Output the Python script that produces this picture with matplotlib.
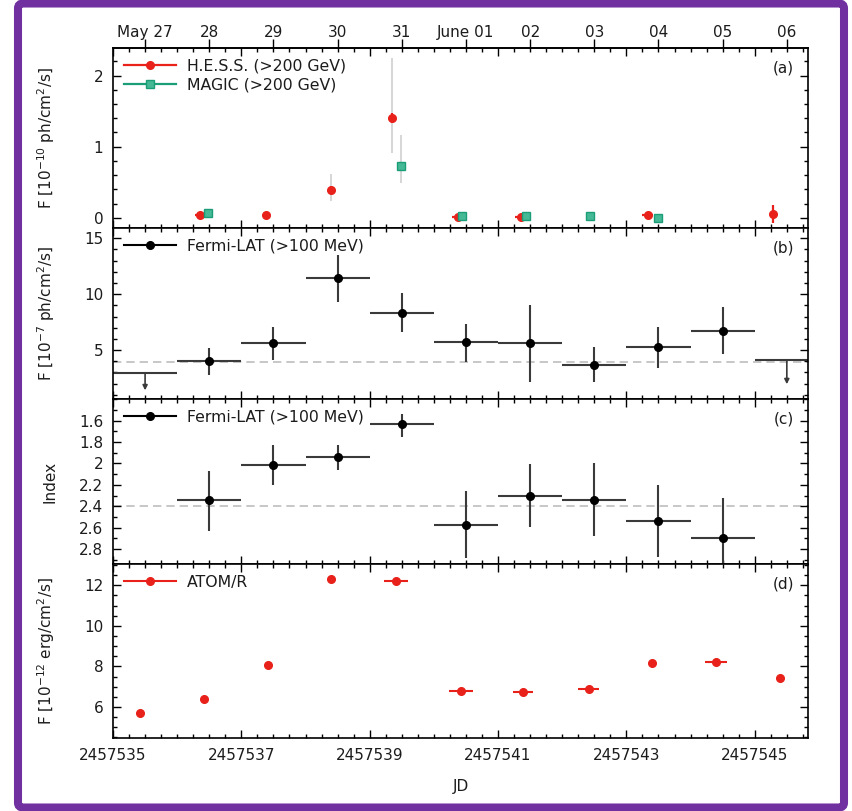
import matplotlib
matplotlib.use("Agg")
import matplotlib.pyplot as plt
from matplotlib.lines import Line2D
from matplotlib.patches import FancyBboxPatch
from matplotlib.ticker import MultipleLocator, FormatStrFormatter, FixedLocator
import numpy as np

# ---------------- data ----------------
# H.E.S.S. (>200 GeV), 1e-10 ph/cm2/s
hess_jd = [2457536.36, 2457537.39, 2457538.39, 2457539.35, 2457540.37,
           2457541.35, 2457543.33, 2457545.28]
hess_f = [0.04, 0.04, 0.39, 1.40, 0.014, 0.014, 0.04, 0.05]
hess_xerr = [0.08, 0.0, 0.0, 0.0, 0.09, 0.09, 0.08, 0.0]
hess_err = [0.03, 0.02, 0.05, 0.07, 0.02, 0.02, 0.02, 0.13]
hess_sys_lo = [0.0, 0.0, 0.15, 0.49, 0.0, 0.0, 0.0, 0.0]
hess_sys_hi = [0.0, 0.0, 0.22, 0.85, 0.0, 0.0, 0.0, 0.0]

# MAGIC (>200 GeV)
magic_jd = [2457536.48, 2457539.49, 2457540.44, 2457541.44, 2457542.44, 2457543.49]
magic_f = [0.06, 0.73, 0.024, 0.03, 0.03, -0.01]
magic_sys_lo = [0.0, 0.24, 0.0, 0.0, 0.0, 0.0]
magic_sys_hi = [0.0, 0.44, 0.0, 0.0, 0.0, 0.0]

# Fermi-LAT (>100 MeV), daily bins
lat_jd = [2457536.5, 2457537.5, 2457538.5, 2457539.5, 2457540.5,
          2457541.5, 2457542.5, 2457543.5, 2457544.5]
lat_f = [4.02, 5.6, 11.42, 8.3, 5.69, 5.6, 3.66, 5.27, 6.73]
lat_f_lo = [1.26, 1.5, 2.12, 1.66, 1.74, 3.44, 1.5, 1.91, 2.12]
lat_f_hi = [1.18, 1.48, 2.08, 1.77, 1.64, 3.42, 1.58, 1.81, 2.15]
lat_ul_jd = [2457535.5, 2457545.5]
lat_ul = [2.97, 4.13]
lat_mean = 3.95

lat_idx = [2.344, 2.015, 1.94, 1.63, 2.575, 2.30, 2.34, 2.54, 2.695]
lat_idx_lo = [0.274, 0.185, 0.11, 0.09, 0.315, 0.294, 0.34, 0.34, 0.375]
lat_idx_hi = [0.286, 0.185, 0.12, 0.12, 0.305, 0.29, 0.34, 0.33, 0.375]
idx_mean = 2.4

# ATOM R band, 1e-12 erg/cm2/s
atom_jd = [2457535.42, 2457536.42, 2457537.42, 2457538.40, 2457539.41, 2457540.42,
           2457541.39, 2457542.41, 2457543.40, 2457544.40, 2457545.39]
atom_f = [5.69, 6.41, 8.05, 12.31, 12.21, 6.80, 6.74, 6.90, 8.15, 8.20, 7.43]
atom_xerr = [0.0, 0.0, 0.0, 0.0, 0.19, 0.19, 0.16, 0.16, 0.0, 0.17, 0.0]

date_jd = [2457535.5 + i for i in range(11)]
date_labels = ["May 27", "28", "29", "30", "31", "June 01", "02", "03", "04", "05", "06"]
idx_ticks = [1.6, 1.8, 2.0, 2.2, 2.4, 2.6, 2.8]

# ---------------- style ----------------
red = "#e8211b"
green = "#1b9e77"
txt = "#1c1c1c"
plt.rcParams["font.family"] = "DejaVu Sans"
plt.rcParams["font.size"] = 11
plt.rcParams["text.color"] = txt
plt.rcParams["axes.labelcolor"] = txt
plt.rcParams["xtick.color"] = "black"
plt.rcParams["ytick.color"] = "black"
plt.rcParams["xtick.labelcolor"] = txt
plt.rcParams["ytick.labelcolor"] = txt

W, H = 852, 811
fig = plt.figure(figsize=(W / 100, H / 100), dpi=100)

left, right = 113, 808
rows = [(48, 228), (228, 399), (399, 564), (564, 738)]
axes = []
for top, bot in rows:
    ax = fig.add_axes([left / W, 1 - bot / H, (right - left) / W, (bot - top) / H])
    axes.append(ax)
ax_a, ax_b, ax_c, ax_d = axes

xlim = (2457535.0, 2457545.83)
for ax in axes:
    ax.set_xlim(*xlim)
    ax.xaxis.set_major_locator(MultipleLocator(2, offset=1))
    ax.xaxis.set_minor_locator(MultipleLocator(0.25))
    ax.xaxis.set_major_formatter(FormatStrFormatter("%d"))
    ax.tick_params(which="both", direction="in", top=True, right=True, width=1.0)
    ax.tick_params(which="major", length=6, pad=7)
    ax.tick_params(which="minor", length=3)
    for s in ax.spines.values():
        s.set_linewidth(1.2)
    ax.yaxis.set_label_coords(-0.08, 0.5)
for ax in axes[:-1]:
    ax.tick_params(labelbottom=False)

# ---- panel (a)
ax = ax_a
ax.errorbar(hess_jd, hess_f, yerr=[hess_sys_lo, hess_sys_hi], fmt="none",
            ecolor="#cfcfcf", elinewidth=1.2, zorder=1)
ax.errorbar(magic_jd, magic_f, yerr=[magic_sys_lo, magic_sys_hi], fmt="none",
            ecolor="#cfcfcf", elinewidth=1.2, zorder=1)
ax.errorbar(hess_jd, hess_f, xerr=hess_xerr, yerr=hess_err, fmt="o", color=red,
            ms=5.5, elinewidth=1.6, capsize=0, zorder=3)
ax.errorbar(magic_jd, magic_f, fmt="s", color=green, mfc="#45b895", mec=green,
            ms=5.5, zorder=3)
ax.set_ylim(-0.145, 2.39)
ax.yaxis.set_major_locator(MultipleLocator(1))
ax.yaxis.set_minor_locator(MultipleLocator(0.2))
ax.set_ylabel(r"F [10$^{-10}$ ph/cm$^2$/s]")
h1 = Line2D([], [], color=red, marker="o", ms=5.5, lw=1.6)
h2 = Line2D([], [], color=green, marker="s", mfc="#45b895", ms=5.5, lw=1.6)
ax.legend([h1, h2], ["H.E.S.S. (>200 GeV)", "MAGIC (>200 GeV)"], loc="upper left",
          frameon=False, handlelength=3.3, handletextpad=0.7, labelspacing=0.2,
          borderaxespad=0.3, fontsize=11.3)

sec = ax.secondary_xaxis("top")
sec.xaxis.set_major_locator(FixedLocator(date_jd))
sec.set_xticklabels(date_labels)
sec.xaxis.set_minor_locator(FixedLocator([]))
sec.tick_params(direction="out", length=6.5, width=1.0, pad=-1)
sec.spines["top"].set_linewidth(1.2)

# ---- panel (b)
ax = ax_b
ax.axhline(lat_mean, color="#bdbdbd", lw=1.2, dashes=(5, 3), zorder=0)
ax.errorbar(lat_jd, lat_f, xerr=0.5, yerr=[lat_f_lo, lat_f_hi], fmt="o", color="black",
            ecolor="#3a3a3a", elinewidth=1.5, ms=5.5, capsize=0, zorder=3)
ax.errorbar(lat_ul_jd, lat_ul, xerr=0.5, fmt="none", ecolor="#3a3a3a", elinewidth=1.5)
for x, y in zip(lat_ul_jd, lat_ul):
    ax.annotate("", xy=(x, 0.47 * y), xytext=(x, y),
                arrowprops=dict(arrowstyle="-|>", color="#3a3a3a", lw=1.2,
                                mutation_scale=7, shrinkA=0, shrinkB=0))
ax.set_ylim(0.62, 15.92)
ax.yaxis.set_major_locator(MultipleLocator(5))
ax.yaxis.set_minor_locator(MultipleLocator(1))
ax.set_ylabel(r"F [10$^{-7}$ ph/cm$^2$/s]")
h3 = Line2D([], [], color="black", marker="o", ms=5.5, lw=1.5)
ax.legend([h3], ["Fermi-LAT (>100 MeV)"], loc="upper left", frameon=False,
          handlelength=3.3, handletextpad=0.7, borderaxespad=0.3, fontsize=11.3)

# ---- panel (c)
ax = ax_c
ax.axhline(idx_mean, color="#bdbdbd", lw=1.2, dashes=(5, 3), zorder=0)
ax.errorbar(lat_jd, lat_idx, xerr=0.5, yerr=[lat_idx_lo, lat_idx_hi], fmt="o", color="black",
            ecolor="#3a3a3a", elinewidth=1.5, ms=5.5, capsize=0, zorder=3)
ax.set_ylim(2.94, 1.397)
ax.yaxis.set_major_locator(FixedLocator(idx_ticks))
ax.yaxis.set_minor_locator(MultipleLocator(0.1))
ax.yaxis.set_major_formatter(plt.FuncFormatter(lambda v, p: f"{v:g}"))
ax.set_ylabel("Index")
ax.legend([h3], ["Fermi-LAT (>100 MeV)"], loc="upper left", frameon=False,
          handlelength=3.3, handletextpad=0.7, borderaxespad=0.3, fontsize=11.3)

# ---- panel (d)
ax = ax_d
ax.errorbar(atom_jd, atom_f, xerr=atom_xerr, fmt="o", color=red, ms=5.5,
            elinewidth=1.5, capsize=0, zorder=3)
ax.set_ylim(4.47, 13.05)
ax.yaxis.set_major_locator(MultipleLocator(2))
ax.yaxis.set_minor_locator(MultipleLocator(0.5))
ax.set_ylabel(r"F [10$^{-12}$ erg/cm$^2$/s]")
ax.set_xlabel("JD", labelpad=12)
h4 = Line2D([], [], color=red, marker="o", ms=5.5, lw=1.5)
ax.legend([h4], ["ATOM/R"], loc="upper left", frameon=False,
          handlelength=3.3, handletextpad=0.7, borderaxespad=0.3, fontsize=11.3)

for ax, lab, (top, bot) in zip(axes, ["(a)", "(b)", "(c)", "(d)"], rows):
    ax.text(0.98, 1 - 20 / (bot - top), lab, transform=ax.transAxes,
            ha="right", va="center", fontsize=11)

# purple frame around the figure
frame = FancyBboxPatch((18 / W, 3.5 / H), (844 - 18) / W, (807.5 - 3.5) / H,
                       boxstyle="round,pad=0,rounding_size=0.006",
                       transform=fig.transFigure, fill=False,
                       ec="#7030a0", lw=5.8, zorder=10)
fig.patches.append(frame)

fig.savefig("out.png", dpi=100)
